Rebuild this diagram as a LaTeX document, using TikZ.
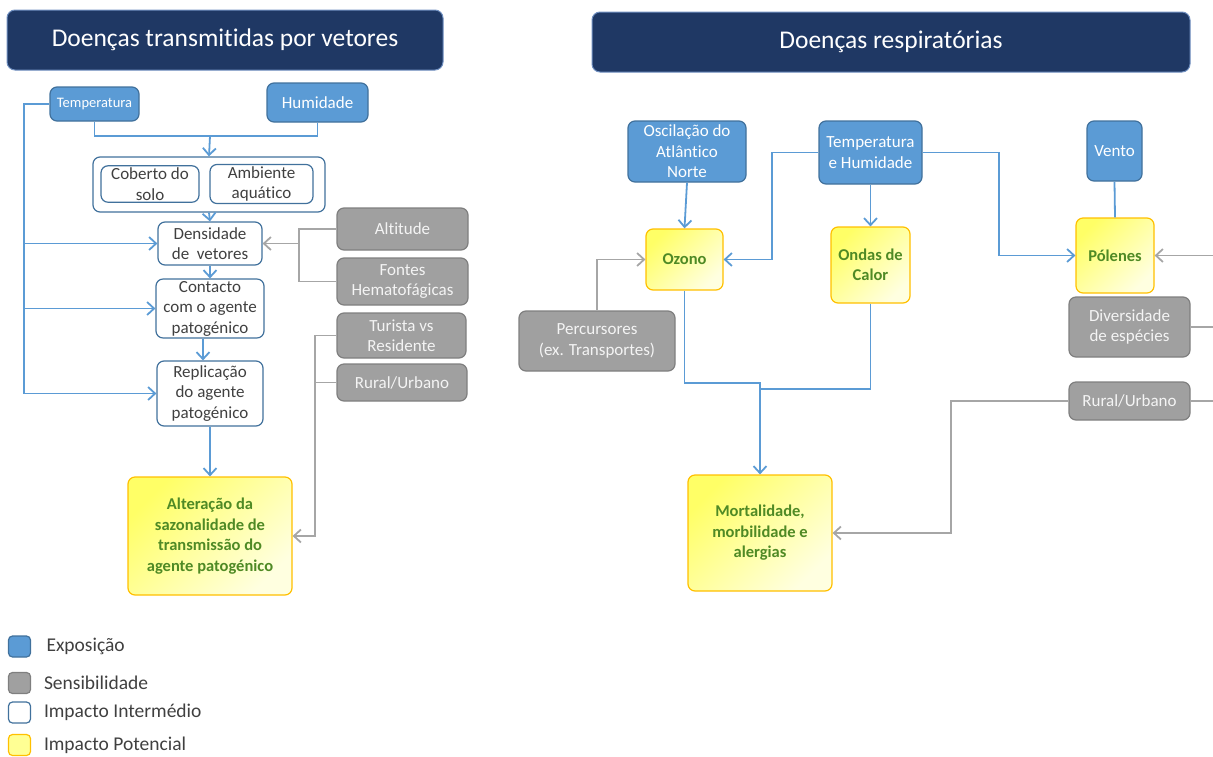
\documentclass[tikz,border=0pt]{standalone}
\usepackage{fontspec}
\setmainfont{Carlito}[Ligatures=NoCommon]
\usetikzlibrary{arrows.meta,positioning}

\definecolor{expblue}{HTML}{5B9BD5}
\definecolor{expborder}{HTML}{41719C}
\definecolor{sensgray}{HTML}{A0A0A0}
\definecolor{sensborder}{HTML}{7F7F7F}
\definecolor{senstext}{HTML}{F4F4F4}
\definecolor{interborder}{HTML}{41719C}
\definecolor{intertext}{HTML}{404040}
\definecolor{potA}{HTML}{FFFF66}
\definecolor{potB}{HTML}{FFFFE0}
\definecolor{potborder}{HTML}{FFC000}
\definecolor{potgreen}{HTML}{4F8A25}
\definecolor{navy}{HTML}{1F3864}
\definecolor{titleborder}{HTML}{6F8FC0}
\definecolor{linegray}{HTML}{A6A6A6}

\begin{document}
\begin{tikzpicture}[x=1pt, y=-1pt, thick,
  boxsize/.style 2 args={minimum width=#1pt, minimum height=#2pt},
  base node/.style={rounded corners=7pt, inner sep=2pt, align=center, line width=1.2pt, font=\fontsize{17}{20.5}\selectfont},
  expo node/.style={base node, fill=expblue, draw=expborder, text=white},
  sens node/.style={base node, fill=sensgray, draw=sensborder, text=senstext},
  inter node/.style={base node, fill=white, draw=interborder, text=intertext},
  pot node/.style={base node, top color=potA, bottom color=potB, shading angle=45, draw=potborder, text=potgreen, font=\fontsize{16.5}{20.5}\selectfont\bfseries},
  title node/.style={rounded corners=8pt, fill=navy, draw=titleborder, line width=1pt, text=white, font=\fontsize{25.5}{30}\selectfont},
  blue line/.style={draw=expblue, line width=1.8pt},
  blue arrow/.style={blue line, -{Straight Barb[length=7pt,width=13pt]}},
  gray line/.style={draw=linegray, line width=1.8pt},
  gray arrow/.style={gray line, -{Straight Barb[length=7pt,width=13pt]}},
  leg box/.style={rounded corners=4pt, minimum width=22pt, minimum height=21pt, inner sep=0pt, line width=1.2pt},
  leg text/.style={font=\fontsize{19.5}{22}\selectfont, text=intertext, inner sep=0pt}]
\useasboundingbox (0,0) rectangle (1213,756);

% titles
\node[title node, boxsize={436}{60}] (titleL) at (225,40) {Doenças transmitidas por vetores};
\node[title node, boxsize={598}{60}] (titleR) at (891,42) {Doenças respiratórias};

% vector-borne diseases
\node[expo node, boxsize={89}{34}, font=\fontsize{14.5}{16}\selectfont] (tempL) at (94.5,104) {Temperatura};
\node[expo node, boxsize={101}{39}] (humL) at (317.5,102.5) {Humidade};
\node[inter node, boxsize={232}{55}] (group) at (209,184.5) {};
\node[inter node, boxsize={98}{36}] (cob) at (150,184) {Coberto do\\solo};
\node[inter node, boxsize={103}{36}] (amb) at (261.5,184) {Ambiente\\aquático};
\node[inter node, boxsize={104}{43}] (dens) at (210,243.5) {Densidade\\de\ \ vetores};
\node[inter node, boxsize={108}{57}] (cont) at (210,308.5) {Contacto\\com o agente\\patogénico};
\node[inter node, boxsize={106}{65}] (repl) at (210,393.5) {Replicação\\do agente\\patogénico};
\node[pot node, boxsize={164}{118}] (alt) at (210,536) {Alteração da\\sazonalidade de\\transmissão do\\agente patogénico};
\node[sens node, boxsize={131}{42}] (altit) at (402.5,229) {Altitude};
\node[sens node, boxsize={131}{47}] (fontes) at (402.5,281.5) {Fontes\\Hematofágicas};
\node[sens node, boxsize={129}{45}] (tur) at (401.5,335.5) {Turista vs\\Residente};
\node[sens node, boxsize={130}{37}] (rurL) at (402,382.5) {Rural/Urbano};

\coordinate (jL) at (210,136);
\coordinate (busL) at (24,104);
\coordinate (gjL) at (299,243.5);
\coordinate (gjL2) at (315,536);
\draw[blue line] (tempL.south) |- (jL);
\draw[blue line] (humL.south) |- (jL);
\draw[blue arrow] (jL) -- (group.north);
\draw[blue arrow] (group.south) -- (dens.north);
\draw[blue arrow] (dens.south) -- (cont.north);
\draw[blue arrow] ([xshift=-7pt]cont.south) -- ([xshift=-7pt]repl.north);
\draw[blue arrow] (repl.south) -- (alt.north);
\draw[blue arrow] (tempL.west) -- (busL) |- (repl.west);
\draw[blue arrow] (busL |- dens.west) -- (dens.west);
\draw[blue arrow] (busL |- cont.west) -- (cont.west);
\draw[gray line] (altit.west) -| (gjL |- fontes.west) -- (fontes.west);
\draw[gray arrow] (gjL) -- (dens.east);
\draw[gray arrow] (tur.west) -| (gjL2) -- (alt.east);
\draw[gray line] (rurL.west) -- (rurL.west -| gjL2);

% respiratory diseases
\node[expo node, boxsize={118}{61}] (osc) at (687,151.5) {Oscilação do\\Atlântico\\Norte};
\node[expo node, boxsize={103}{63}] (tempR) at (870.5,152.5) {Temperatura\\e Humidade};
\node[expo node, boxsize={55}{60}] (vento) at (1114.5,151) {Vento};
\node[pot node, boxsize={77}{61}] (ozono) at (684.5,259.5) {Ozono};
\node[pot node, boxsize={79}{76}] (ondas) at (870.5,265) {Ondas de\\Calor};
\node[pot node, boxsize={78}{75}] (polen) at (1115,255.5) {Pólenes};
\node[sens node, boxsize={156}{60}] (perc) at (597,341) {Percursores\\(ex. Transportes)};
\node[sens node, boxsize={121}{60}] (div) at (1129.5,327) {Diversidade\\de espécies};
\node[sens node, boxsize={121}{38}] (rurR) at (1129.5,401) {Rural/Urbano};
\node[pot node, boxsize={144}{116}] (mort) at (760,533) {Mortalidade,\\morbilidade e\\alergias};

\coordinate (tj1) at (772,259.5);
\coordinate (tj2) at (999,255.5);
\coordinate (mj) at (760,389);
\coordinate (mj0) at (760,383);
\coordinate (rj) at (951,533);
\coordinate (edgeR) at (1213,255.5);
\draw[blue arrow] (osc.south) -- (ozono.north);
\draw[blue arrow] (tempR.west) -| (tj1) -- (ozono.east);
\draw[blue arrow] (tempR.east) -| (tj2) -- (polen.west);
\draw[blue arrow] (tempR.south) -- (ondas.north);
\draw[blue line] (vento.south) -- (polen.north);
\draw[gray arrow] (perc.north) |- (ozono.west);
\draw[blue line] (ozono.south) |- (mj0) -- (mj);
\draw[blue line] (ondas.south) |- (mj);
\draw[blue arrow] (mj) -- (mort.north);
\draw[gray arrow] (rurR.west) -| (rj) -- (mort.east);
\draw[gray arrow] (edgeR) -- (polen.east);
\draw[gray line] (div.east) -- (div.east -| edgeR);
\draw[gray line] (rurR.east) -- (rurR.east -| edgeR);

% legend
\node[leg box, fill=expblue, draw=expborder] (lgExp) at (19.5,646.5) {};
\node[leg box, fill=sensgray, draw=sensborder] (lgSens) at (19.5,683) {};
\node[leg box, fill=white, draw=interborder] (lgInter) at (19.5,712.5) {};
\node[leg box, fill=potA!70!white, draw=potborder] (lgPot) at (19.5,745) {};
\node[leg text, right=15pt of lgExp] {Exposição};
\node[leg text, right=12.5pt of lgSens] {Sensibilidade};
\node[leg text, right=12.5pt of lgInter] {Impacto Intermédio};
\node[leg text, right=12.5pt of lgPot] {Impacto Potencial};
\end{tikzpicture}
\end{document}
